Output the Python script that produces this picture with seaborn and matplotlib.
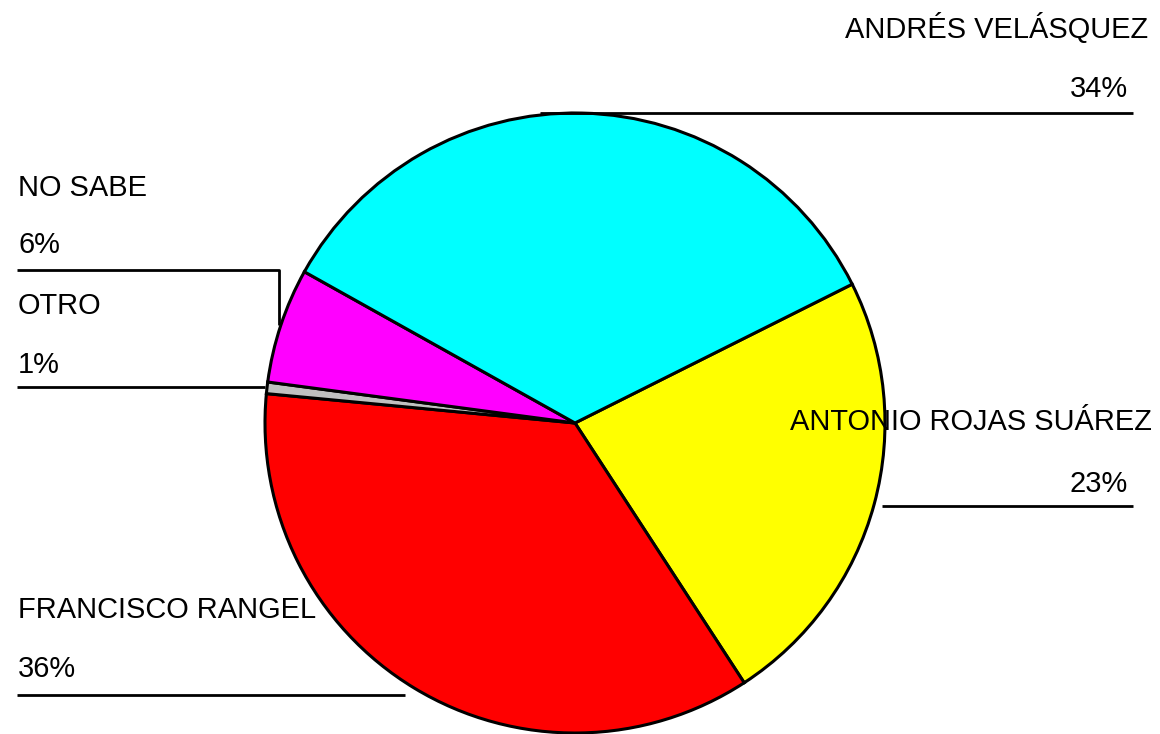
import matplotlib
matplotlib.use("Agg")
import matplotlib.pyplot as plt
import seaborn as sns

# slice order, clockwise from the cyan/yellow boundary
candidates = ["ANTONIO ROJAS SUÁREZ", "FRANCISCO RANGEL", "OTRO", "NO SABE", "ANDRÉS VELÁSQUEZ"]
shares = [23.2, 35.7, 0.6, 6.0, 34.5]
pct_labels = ["23%", "36%", "1%", "6%", "34%"]
colors = ["#FFFF00", "#FF0000", "#C0C0C0", "#FF00FF", "#00FFFF"]

sns.set_theme(style="white")
plt.rcParams['font.family'] = ['Liberation Sans', 'DejaVu Sans']

fig = plt.figure(figsize=(11.6, 7.34), dpi=100)
ax = fig.add_axes([0, 0, 1, 1])

# axes work in pixel coords, y pointing down (so angles run clockwise)
ax.pie(
    shares,
    colors=colors,
    center=(575, 423),
    radius=310,
    startangle=-26.6,
    counterclock=True,
    wedgeprops=dict(edgecolor='black', linewidth=2.2),
)
ax.set_xlim(0, 1160)
ax.set_ylim(734, 0)
ax.set_aspect('equal')
ax.axis('off')

fs = 20.9
# label placement: (name x, name y, pct x, pct y, align, leader line pts)
layout = {
    "ANDRÉS VELÁSQUEZ": (1148, 38, 1128, 97, 'right', [(540, 113), (1133, 113)]),
    "ANTONIO ROJAS SUÁREZ": (1152, 430, 1128, 492, 'right', [(882, 506), (1133, 506)]),
    "NO SABE": (18, 196, 18, 253, 'left', [(17, 270), (279, 270), (279, 325)]),
    "OTRO": (18, 314, 18, 373, 'left', [(17, 387), (265, 387)]),
    "FRANCISCO RANGEL": (18, 618, 18, 677, 'left', [(17, 695), (405, 695)]),
}

for name, pct in zip(candidates, pct_labels):
    nx, ny, px, py, ha, pts = layout[name]
    ax.text(nx, ny, name, ha=ha, va='baseline', fontsize=fs, color='black')
    ax.text(px, py, pct, ha=ha, va='baseline', fontsize=fs, color='black')
    xs = [p[0] for p in pts]
    ys = [p[1] for p in pts]
    ax.plot(xs, ys, color='black', linewidth=2, solid_capstyle='butt')

fig.savefig("out.png", dpi=100, facecolor='white')
